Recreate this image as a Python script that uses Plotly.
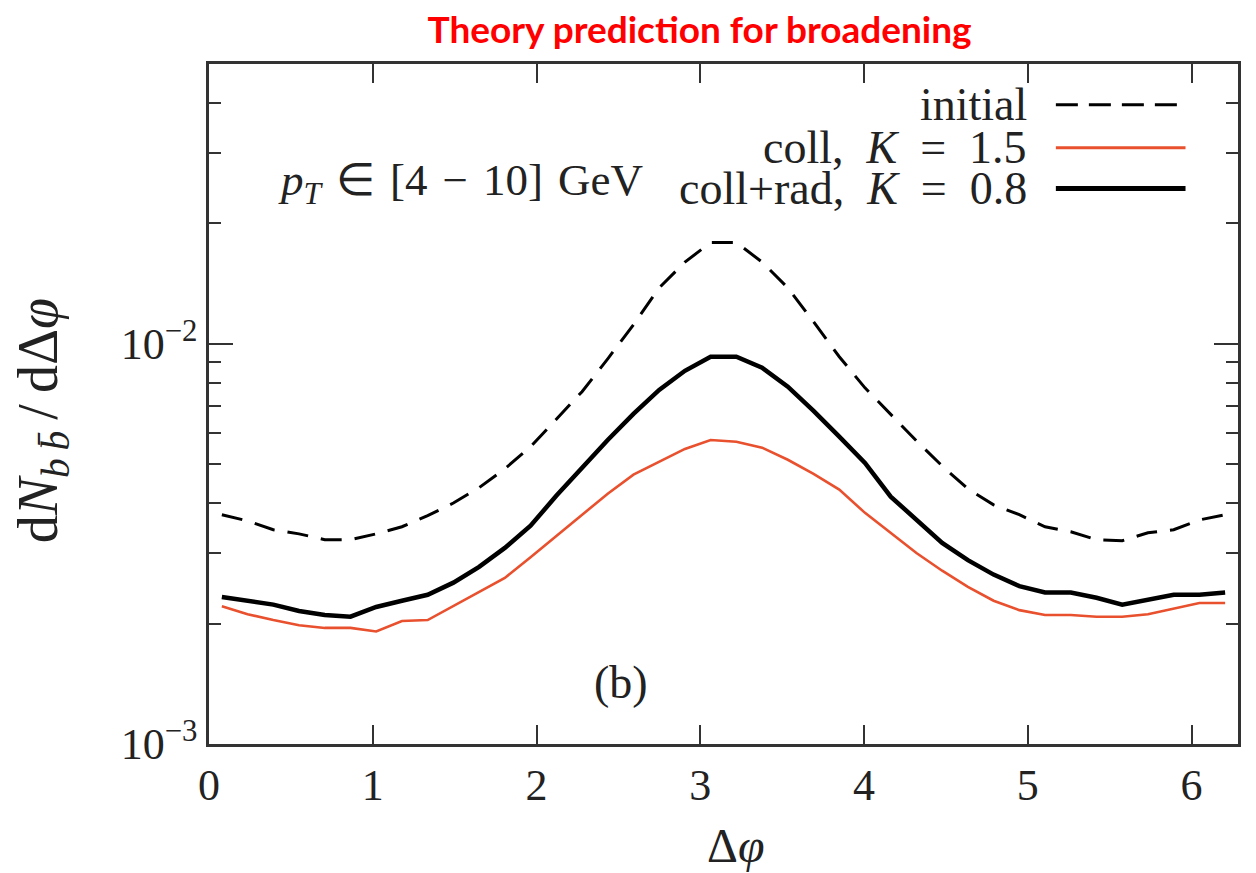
import plotly.graph_objects as go

# Delta phi bin centres
dphi = [0.0785, 0.2356, 0.3927, 0.5498, 0.7069, 0.8639, 1.0210, 1.1781, 1.3352, 1.4923,
        1.6493, 1.8064, 1.9635, 2.1206, 2.2777, 2.4347, 2.5918, 2.7489, 2.9060, 3.0631,
        3.2201, 3.3772, 3.5343, 3.6914, 3.8485, 4.0055, 4.1626, 4.3197, 4.4768, 4.6339,
        4.7909, 4.9480, 5.1051, 5.2622, 5.4193, 5.5763, 5.7334, 5.8905, 6.0476, 6.2046]

initial = [3.74e-3, 3.61e-3, 3.43e-3, 3.35e-3, 3.24e-3, 3.24e-3, 3.35e-3, 3.49e-3, 3.72e-3, 4.00e-3,
           4.37e-3, 4.87e-3, 5.53e-3, 6.46e-3, 7.59e-3, 9.17e-3, 1.116e-2, 1.38e-2, 1.60e-2, 1.79e-2,
           1.79e-2, 1.60e-2, 1.38e-2, 1.135e-2, 9.28e-3, 7.76e-3, 6.65e-3, 5.72e-3, 4.95e-3, 4.34e-3,
           3.96e-3, 3.74e-3, 3.49e-3, 3.39e-3, 3.24e-3, 3.22e-3, 3.37e-3, 3.43e-3, 3.63e-3, 3.74e-3]

coll = [2.21e-3, 2.11e-3, 2.04e-3, 1.98e-3, 1.95e-3, 1.95e-3, 1.91e-3, 2.03e-3, 2.04e-3, 2.21e-3,
        2.39e-3, 2.60e-3, 2.93e-3, 3.31e-3, 3.72e-3, 4.22e-3, 4.71e-3, 5.07e-3, 5.46e-3, 5.75e-3,
        5.69e-3, 5.50e-3, 5.13e-3, 4.73e-3, 4.32e-3, 3.78e-3, 3.37e-3, 3.00e-3, 2.71e-3, 2.47e-3,
        2.28e-3, 2.16e-3, 2.10e-3, 2.10e-3, 2.08e-3, 2.08e-3, 2.11e-3, 2.18e-3, 2.25e-3, 2.25e-3]

collrad = [2.33e-3, 2.28e-3, 2.23e-3, 2.15e-3, 2.10e-3, 2.08e-3, 2.20e-3, 2.28e-3, 2.36e-3, 2.53e-3,
           2.77e-3, 3.09e-3, 3.51e-3, 4.17e-3, 4.90e-3, 5.75e-3, 6.68e-3, 7.67e-3, 8.56e-3, 9.28e-3,
           9.28e-3, 8.71e-3, 7.81e-3, 6.80e-3, 5.86e-3, 5.04e-3, 4.15e-3, 3.63e-3, 3.18e-3, 2.88e-3,
           2.65e-3, 2.48e-3, 2.39e-3, 2.39e-3, 2.32e-3, 2.23e-3, 2.29e-3, 2.36e-3, 2.36e-3, 2.39e-3]

x_ticks = [0, 1, 2, 3, 4, 5, 6]
y_major = [1e-3, 1e-2]
y_major_text = ["10<sup>\u22123</sup>", "10<sup>\u22122</sup>"]
y_minor = [2e-3, 3e-3, 4e-3, 5e-3, 6e-3, 7e-3, 8e-3, 9e-3, 2e-2, 3e-2, 4e-2]

SP = "\u2002"   # en space, mimics TeX math spacing
SP3 = "\u2004"  # three-per-em space
legend_labels = ["initial",
                 "coll," + SP + "<i>K</i>" + SP + "=" + SP + "1.5",
                 "coll+rad," + SP + "<i>K</i>" + SP + "=" + SP + "0.8"]
pt_label = "<i>p<sub>T</sub></i>" + SP3 + "\u2208" + SP3 + "[4" + SP3 + "\u2212" + SP3 + "10]" + SP3 + "GeV"

RED = "#E8502E"
SERIF = "Liberation Serif, Times New Roman, serif"
AX = "#333333"
TXT = "#222222"

fig = go.Figure()
fig.add_trace(go.Scatter(x=dphi, y=initial, mode="lines",
                         line=dict(color="black", width=3, dash="21px,13px"), showlegend=False))
fig.add_trace(go.Scatter(x=dphi, y=coll, mode="lines",
                         line=dict(color=RED, width=2.6), showlegend=False))
fig.add_trace(go.Scatter(x=dphi, y=collrad, mode="lines",
                         line=dict(color="black", width=4.5), showlegend=False))

fig.update_layout(
    width=1256, height=873,
    margin=dict(l=209, r=18, t=64, b=129),
    paper_bgcolor="white", plot_bgcolor="white",
    font=dict(family=SERIF, size=44, color=TXT),
    title=dict(text="<b>Theory prediction for broadening</b>",
               font=dict(family="Lato, Open Sans, sans-serif", size=37, color="#FF0000"),
               x=0.557, xanchor="center", y=0.966, yanchor="middle"),
    xaxis=dict(range=[0, 6.2832], tickmode="array", tickvals=x_ticks,
               ticks="inside", ticklen=19, tickwidth=2, tickcolor=AX,
               showline=True, linewidth=2.5, linecolor=AX, mirror="ticks",
               showgrid=False, zeroline=False, ticklabelstandoff=0,
               tickfont=dict(family=SERIF, size=44, color=TXT)),
    yaxis=dict(type="log", range=[-3, -1.30103], tickmode="array",
               tickvals=y_major, ticktext=y_major_text,
               ticks="inside", ticklen=24, tickwidth=2, tickcolor=AX,
               minor=dict(tickmode="array", tickvals=y_minor, ticks="inside",
                          ticklen=12, tickwidth=2, tickcolor=AX, showgrid=False),
               showline=True, linewidth=2.5, linecolor=AX, mirror="ticks",
               showgrid=False, zeroline=False, ticklabelstandoff=0,
               tickfont=dict(family=SERIF, size=44, color=TXT)),
)

# axis titles
fig.add_annotation(text="\u0394<i>\u03c6</i>", xref="paper", yref="paper",
                   x=0.512, y=-0.15, xanchor="center", yanchor="middle",
                   showarrow=False, font=dict(family=SERIF, size=48, color=TXT))
fig.add_annotation(text="d<i>N</i><sub><i>b</i>\u2009<i>b\u0304</i></sub>\u2009/\u2009d\u0394<i>\u03c6</i>",
                   xref="paper", yref="paper", x=-0.162, y=0.475, textangle=-90,
                   xanchor="center", yanchor="middle", showarrow=False,
                   font=dict(family=SERIF, size=56, color=TXT))

# in-plot labels
fig.add_annotation(text=pt_label, xref="paper", yref="paper",
                   x=0.065, y=0.825, xanchor="left", yanchor="middle", showarrow=False,
                   font=dict(family=SERIF, size=45, color=TXT))
fig.add_annotation(text="(b)", xref="paper", yref="paper",
                   x=0.4, y=0.09, xanchor="center", yanchor="middle", showarrow=False,
                   font=dict(family=SERIF, size=46, color=TXT))

# legend (text on the left, line sample on the right)
leg_y = [0.94, 0.877, 0.817]
leg_style = [dict(color="black", width=3, dash="22px,11px"),
             dict(color=RED, width=3),
             dict(color="black", width=5)]
for lab, yy, st in zip(legend_labels, leg_y, leg_style):
    fig.add_annotation(text=lab, xref="paper", yref="paper", x=0.797, y=yy,
                       xanchor="right", yanchor="middle", showarrow=False,
                       font=dict(family=SERIF, size=46, color=TXT))
    fig.add_shape(type="line", xref="paper", yref="paper",
                  x0=0.823, x1=0.949, y0=yy, y1=yy, line=st)

fig.write_html("out.html")
